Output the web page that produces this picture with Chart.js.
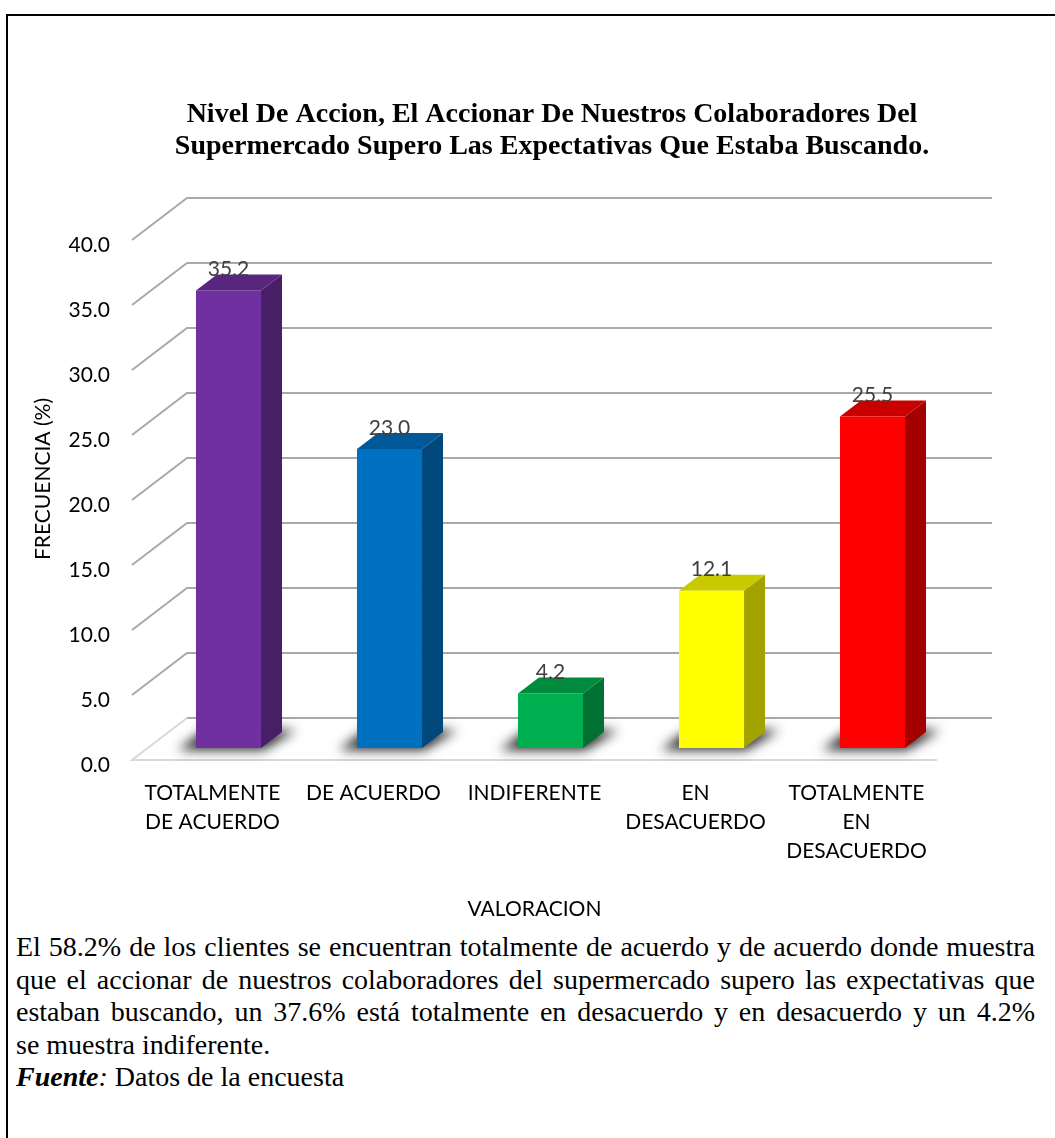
<!DOCTYPE html>
<html lang="es">
<head>
<meta charset="utf-8">
<title>Nivel De Accion</title>
<script src="https://cdn.jsdelivr.net/npm/chart.js@4.4.1/dist/chart.umd.min.js"></script>
<style>
  html, body { margin:0; padding:0; width:1055px; height:1138px; overflow:hidden; background:#fff; }
  #frame { position:absolute; left:6px; top:14px; width:1200px; height:1300px; border-left:2px solid #000; border-top:2px solid #000; box-sizing:border-box; }
  #chart { position:absolute; left:0; top:0; }
  .line { position:absolute; left:16px; width:1019px; font-family:'Liberation Serif','Times New Roman','DejaVu Serif',serif; font-size:28px; line-height:32.5px; color:#000; white-space:nowrap; }
  .just { text-align:justify; text-align-last:justify; }
</style>
</head>
<body>
<div id="frame"></div>
<canvas id="chart" width="1104" height="930"></canvas>
<div class="line just" style="top:931px">El 58.2% de los clientes se encuentran totalmente de acuerdo y de acuerdo donde muestra</div>
<div class="line just" style="top:963.5px">que el accionar de nuestros colaboradores del supermercado supero las expectativas que</div>
<div class="line just" style="top:996px">estaban buscando, un 37.6% está totalmente en desacuerdo y en desacuerdo y un 4.2%</div>
<div class="line" style="top:1028.5px">se muestra indiferente.</div>
<div class="line" style="top:1061px"><b><i>Fuente</i></b><i>:</i> Datos de la encuesta</div>
<script>
// Categories (valoración) and frequencies in percent
const categories = [
  ['TOTALMENTE', 'DE ACUERDO'],
  'DE ACUERDO',
  'INDIFERENTE',
  ['EN', 'DESACUERDO'],
  ['TOTALMENTE', 'EN', 'DESACUERDO']
];
const frecuencia = [35.2, 23.0, 4.2, 12.1, 25.5];
const barColors = ['#7030A0', '#0070C0', '#00B050', '#FFFF00', '#FF0000'];
const titleLines = [
  'Nivel De Accion, El Accionar De Nuestros Colaboradores Del',
  'Supermercado Supero Las Expectativas Que Estaba Buscando.'
];

const SERIF = "'Liberation Serif', 'Times New Roman', 'DejaVu Serif', serif";
const SANS = "Lato, 'Open Sans', sans-serif";

// 3D look: depth of the walls/floor and of the boxes
const DEPTH = { x: 55, y: -42 };
const BAR_SHIFT = { x: 16, y: -12 };
const BAR_DEPTH = { x: 21, y: -16 };
const GRID = '#a9a9a9';
const FLOOR_EDGE = '#d9d9d9';
const LABEL_FONT = '21px ' + SANS;

function shade(hex, f) {
  const n = parseInt(hex.slice(1), 16);
  const r = Math.round(((n >> 16) & 255) * f);
  const g = Math.round(((n >> 8) & 255) * f);
  const b = Math.round((n & 255) * f);
  return `rgb(${r},${g},${b})`;
}

function poly(ctx, pts) {
  ctx.beginPath();
  ctx.moveTo(pts[0][0], pts[0][1]);
  for (let i = 1; i < pts.length; i++) ctx.lineTo(pts[i][0], pts[i][1]);
  ctx.closePath();
}

const box3d = {
  id: 'box3d',
  beforeDatasetsDraw(chart) {
    const { ctx, chartArea: a } = chart;
    const y = chart.scales.y;
    ctx.save();
    ctx.lineWidth = 2;
    ctx.lineCap = 'butt';

    // side wall diagonals + back wall gridlines
    y.ticks.forEach(t => {
      const py = y.getPixelForValue(t.value);
      ctx.strokeStyle = GRID;
      ctx.beginPath();
      if (t.value === y.min) {
        ctx.moveTo(a.left + DEPTH.x, py + DEPTH.y);
      } else {
        ctx.moveTo(a.left, py);
        ctx.lineTo(a.left + DEPTH.x, py + DEPTH.y);
      }
      ctx.lineTo(a.right + DEPTH.x, py + DEPTH.y);
      ctx.stroke();
    });

    // floor edges
    ctx.strokeStyle = FLOOR_EDGE;
    ctx.beginPath();
    ctx.moveTo(a.left + DEPTH.x, a.bottom + DEPTH.y);
    ctx.lineTo(a.left, a.bottom);
    ctx.lineTo(a.right, a.bottom);
    ctx.stroke();

    const meta = chart.getDatasetMeta(0);
    const values = chart.data.datasets[0].data;

    // soft shadows under the boxes
    meta.data.forEach(bar => {
      const l = bar.x - bar.width / 2 + BAR_SHIFT.x;
      const r = bar.x + bar.width / 2 + BAR_SHIFT.x;
      const b = bar.base + BAR_SHIFT.y;
      const off = 5000;
      ctx.save();
      ctx.shadowColor = 'rgba(0,0,0,0.85)';
      ctx.shadowBlur = 12;
      ctx.shadowOffsetX = off;
      ctx.fillStyle = '#000';
      poly(ctx, [
        [l - 18 - off, b + 2],
        [r + 2 - off, b + 2],
        [r + BAR_DEPTH.x + 14 - off, b + BAR_DEPTH.y - 2],
        [l + BAR_DEPTH.x - 12 - off, b + BAR_DEPTH.y - 2]
      ]);
      ctx.fill();
      ctx.restore();
    });

    // boxes
    meta.data.forEach((bar, i) => {
      const col = barColors[i];
      const l = bar.x - bar.width / 2 + BAR_SHIFT.x;
      const r = bar.x + bar.width / 2 + BAR_SHIFT.x;
      const t = bar.y + BAR_SHIFT.y;
      const b = bar.base + BAR_SHIFT.y;
      const dx = BAR_DEPTH.x, dy = BAR_DEPTH.y;
      // side
      ctx.fillStyle = shade(col, 0.64);
      poly(ctx, [[r, t], [r + dx, t + dy], [r + dx, b + dy], [r, b]]);
      ctx.fill();
      // top
      ctx.fillStyle = shade(col, 0.79);
      poly(ctx, [[l, t], [r, t], [r + dx, t + dy], [l + dx, t + dy]]);
      ctx.fill();
      // front
      ctx.fillStyle = col;
      ctx.fillRect(l, t, r - l, b - t);

      // value label
      ctx.fillStyle = '#404040';
      ctx.font = LABEL_FONT;
      ctx.textAlign = 'center';
      ctx.textBaseline = 'middle';
      ctx.fillText(Number(values[i]).toFixed(1), (l + r) / 2, t - 21);
    });

    ctx.restore();
    return false;
  },
  afterDraw(chart) {
    const { ctx } = chart;
    ctx.save();
    ctx.translate(43, 479);
    ctx.rotate(-Math.PI / 2);
    ctx.font = LABEL_FONT;
    ctx.fillStyle = '#000';
    ctx.textAlign = 'center';
    ctx.textBaseline = 'middle';
    ctx.fillText('FRECUENCIA (%)', 0, 0);
    ctx.restore();
  }
};

new Chart(document.getElementById('chart'), {
  type: 'bar',
  data: {
    labels: categories,
    datasets: [{
      data: frecuencia,
      backgroundColor: barColors,
      categoryPercentage: 1,
      barPercentage: 0.404
    }]
  },
  options: {
    responsive: false,
    animation: false,
    devicePixelRatio: 1,
    layout: { padding: 0 },
    plugins: {
      legend: { display: false },
      tooltip: { enabled: false },
      title: {
        display: true,
        text: titleLines,
        color: '#000',
        font: { family: SERIF, size: 28, weight: 'bold', lineHeight: 32 / 28 },
        padding: { top: 99, bottom: 77 }
      }
    },
    scales: {
      x: {
        grid: { display: false, drawTicks: false },
        border: { display: false },
        ticks: {
          color: '#000',
          font: { family: SANS, size: 21, lineHeight: 29 / 21 },
          padding: 19,
          maxRotation: 0,
          autoSkip: false
        },
        title: {
          display: true,
          text: 'VALORACION',
          color: '#000',
          font: { family: SANS, size: 21 },
          padding: { top: 0, bottom: 8 }
        },
        afterFit(s) { s.height = 170; }
      },
      y: {
        min: 0,
        max: 40,
        grid: { display: false, drawTicks: false },
        border: { display: false },
        ticks: {
          stepSize: 5,
          color: '#000',
          font: { family: SANS, size: 21 },
          padding: 22,
          labelOffset: 5,
          callback: v => Number(v).toFixed(1)
        },
        afterFit(s) { s.width = 132; }
      },
      // empty right-hand band that holds the depth of the 3D walls
      depth: {
        type: 'linear',
        position: 'right',
        display: true,
        grid: { display: false, drawTicks: false },
        border: { display: false },
        ticks: { display: false },
        afterFit(s) { s.width = 167; }
      }
    }
  },
  plugins: [box3d]
});
</script>
</body>
</html>
